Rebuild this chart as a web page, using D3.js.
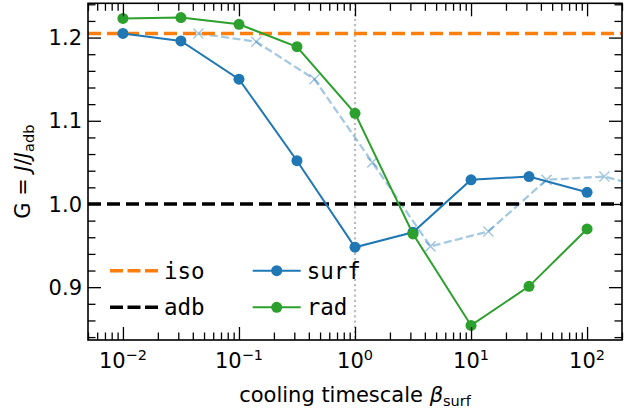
<!DOCTYPE html>
<html>
<head>
<meta charset="utf-8">
<script src="https://cdn.jsdelivr.net/npm/d3@7/dist/d3.min.js"></script>
<style>
body { margin: 0; background: #fff; }
text { font-family: "DejaVu Sans", sans-serif; fill: #000; }
</style>
</head>
<body>
<div id="chart"></div>
<script>
// data
const betaSurf = [0.01, 0.0316, 0.1, 0.316, 1, 3.16, 10, 31.6, 100];
const gSurf = [1.205, 1.196, 1.150, 1.052, 0.948, 0.966, 1.029, 1.033, 1.014];
const gRad = [1.223, 1.224, 1.216, 1.189, 1.109, 0.964, 0.854, 0.901, 0.970];
// faint dashed curve with x markers
const betaShift = [0.0447, 0.141, 0.447, 1.41, 4.47, 14.1, 44.7, 141, 447];
const gShift = [1.205, 1.195, 1.150, 1.050, 0.949, 0.967, 1.029, 1.033, 1.014];
const gIso = 1.205;
const gAdb = 1.0;
const betaMark = 1;

const xTicks = [0.01, 0.1, 1, 10, 100];
const xTickExp = ["\u22122", "\u22121", "0", "1", "2"];
const yTicks = [0.9, 1.0, 1.1, 1.2];
const yTickLabels = ["0.9", "1.0", "1.1", "1.2"];

const width = 624, height = 416;
const margin = { top: 3.3, right: 2, bottom: 76, left: 88 };
const innerW = width - margin.left - margin.right;
const innerH = height - margin.top - margin.bottom;

const blue = "#1f77b4", green = "#2ca02c", orange = "#ff7f0e";

const svg = d3.select("#chart").append("svg")
  .attr("width", width)
  .attr("height", height);

const g = svg.append("g")
  .attr("transform", `translate(${margin.left},${margin.top})`);

const x = d3.scaleLog().domain([0.005, 200]).range([0, innerW]);
const y = d3.scaleLinear().domain([0.8365, 1.2412]).range([innerH, 0]);

// minor ticks
const xMinor = [];
for (let e = -3; e <= 2; e++) {
  for (let m = 2; m <= 9; m++) {
    const v = m * Math.pow(10, e);
    if (v >= 0.005 && v <= 200) xMinor.push(v);
  }
}
const yMinor = d3.range(0.84, 1.2401, 0.02).filter(v => !yTicks.some(t => Math.abs(t - v) < 1e-6));

svg.append("clipPath").attr("id", "plotclip")
  .append("rect").attr("width", innerW).attr("height", innerH);

const plot = g.append("g").attr("clip-path", "url(#plotclip)");

// vertical dotted marker at beta = 1
plot.append("line")
  .attr("x1", x(betaMark)).attr("x2", x(betaMark))
  .attr("y1", 0).attr("y2", innerH)
  .attr("stroke", "#bdbdbd")
  .attr("stroke-width", 2.2)
  .attr("stroke-dasharray", "2.2,3");

const line = d3.line().x(d => x(d[0])).y(d => y(d[1]));

// faint dashed curve
const shiftPts = betaShift.map((b, i) => [b, gShift[i]]);
plot.append("path")
  .datum(shiftPts)
  .attr("d", line)
  .attr("fill", "none")
  .attr("stroke", blue)
  .attr("stroke-opacity", 0.4)
  .attr("stroke-width", 2.3)
  .attr("stroke-dasharray", "8,3.5");

plot.selectAll(".xmark")
  .data(shiftPts)
  .enter()
  .append("path")
  .attr("class", "xmark")
  .attr("transform", d => `translate(${x(d[0])},${y(d[1])})`)
  .attr("d", "M-5,-5L5,5M-5,5L5,-5")
  .attr("stroke", blue)
  .attr("stroke-opacity", 0.4)
  .attr("stroke-width", 1.5)
  .attr("fill", "none");

// iso / adb reference lines
plot.append("line")
  .attr("x1", 0).attr("x2", innerW)
  .attr("y1", y(gIso)).attr("y2", y(gIso))
  .attr("stroke", orange)
  .attr("stroke-width", 3.5)
  .attr("stroke-dasharray", "13,6");

plot.append("line")
  .attr("x1", 0).attr("x2", innerW)
  .attr("y1", y(gAdb)).attr("y2", y(gAdb))
  .attr("stroke", "#000")
  .attr("stroke-width", 3.5)
  .attr("stroke-dasharray", "13,6");

// surf and rad series
const series = [
  { name: "surf", color: blue, values: gSurf },
  { name: "rad", color: green, values: gRad }
];

series.forEach(s => {
  const pts = betaSurf.map((b, i) => [b, s.values[i]]);
  plot.append("path")
    .datum(pts)
    .attr("d", line)
    .attr("fill", "none")
    .attr("stroke", s.color)
    .attr("stroke-width", 2);
  plot.selectAll(".dot-" + s.name)
    .data(pts)
    .enter()
    .append("circle")
    .attr("class", "dot-" + s.name)
    .attr("cx", d => x(d[0]))
    .attr("cy", d => y(d[1]))
    .attr("r", 5.5)
    .attr("fill", s.color);
});

// axes: ticks pointing inward on all four sides
function styleAxis(sel) {
  sel.select(".domain").remove();
  sel.selectAll(".tick line").attr("stroke", "#000").attr("stroke-width", 1.3);
}

g.append("g").attr("transform", `translate(0,${innerH})`)
  .call(d3.axisBottom(x).tickValues(xTicks).tickSize(-13).tickFormat(""))
  .call(styleAxis);
g.append("g").attr("transform", `translate(0,${innerH})`)
  .call(d3.axisBottom(x).tickValues(xMinor).tickSize(-7.5).tickFormat(""))
  .call(styleAxis);
g.append("g")
  .call(d3.axisTop(x).tickValues(xTicks).tickSize(-13).tickFormat(""))
  .call(styleAxis);
g.append("g")
  .call(d3.axisTop(x).tickValues(xMinor).tickSize(-7.5).tickFormat(""))
  .call(styleAxis);

g.append("g")
  .call(d3.axisLeft(y).tickValues(yTicks).tickSize(-13).tickFormat(""))
  .call(styleAxis);
g.append("g")
  .call(d3.axisLeft(y).tickValues(yMinor).tickSize(-7.5).tickFormat(""))
  .call(styleAxis);
g.append("g").attr("transform", `translate(${innerW},0)`)
  .call(d3.axisRight(y).tickValues(yTicks).tickSize(-13).tickFormat(""))
  .call(styleAxis);
g.append("g").attr("transform", `translate(${innerW},0)`)
  .call(d3.axisRight(y).tickValues(yMinor).tickSize(-7.5).tickFormat(""))
  .call(styleAxis);

// frame
g.append("rect")
  .attr("width", innerW).attr("height", innerH)
  .attr("fill", "none")
  .attr("stroke", "#000")
  .attr("stroke-width", 1.6);

// tick labels
g.selectAll(".ylab")
  .data(yTicks)
  .enter()
  .append("text")
  .attr("class", "ylab")
  .attr("x", -6)
  .attr("y", d => y(d))
  .attr("dy", "0.36em")
  .attr("text-anchor", "end")
  .style("font-size", "21px")
  .text((d, i) => yTickLabels[i]);

const xl = g.selectAll(".xlab")
  .data(xTicks)
  .enter()
  .append("text")
  .attr("class", "xlab")
  .attr("x", d => x(d))
  .attr("y", innerH + 28)
  .attr("text-anchor", "middle")
  .style("font-size", "21px");
xl.append("tspan").text("10");
xl.append("tspan")
  .attr("dy", -8)
  .style("font-size", "14.5px")
  .text((d, i) => xTickExp[i]);

// axis titles
const xt = g.append("text")
  .attr("x", innerW / 2)
  .attr("y", innerH + 62)
  .attr("text-anchor", "middle")
  .style("font-size", "21px");
xt.append("tspan").text("cooling timescale ");
xt.append("tspan").style("font-style", "italic").text("\u03b2");
xt.append("tspan").attr("dy", 4).style("font-size", "14.5px").text("surf");

const yt = g.append("text")
  .attr("transform", `translate(${-58},${innerH / 2}) rotate(-90)`)
  .attr("text-anchor", "middle")
  .style("font-size", "21px");
yt.append("tspan").text("G = ");
yt.append("tspan").style("font-style", "italic").text("J");
yt.append("tspan").text("/");
yt.append("tspan").style("font-style", "italic").text("J");
yt.append("tspan").attr("dy", 4).style("font-size", "14.5px").text("adb");

// legend
const legend = g.append("g");
const legRows = [
  { label: "iso", color: orange, dashed: true, col: 0, row: 0 },
  { label: "adb", color: "#000", dashed: true, col: 0, row: 1 },
  { label: "surf", color: blue, dashed: false, col: 1, row: 0 },
  { label: "rad", color: green, dashed: false, col: 1, row: 1 }
];
const colX = [22, 164.7];
const rowY = [267.4, 304];
legRows.forEach(d => {
  const lx = colX[d.col], ly = rowY[d.row];
  const item = legend.append("g").attr("transform", `translate(${lx},${ly})`);
  item.append("line")
    .attr("x1", 0).attr("x2", 48)
    .attr("stroke", d.color)
    .attr("stroke-width", d.dashed ? 3.5 : 2)
    .attr("stroke-dasharray", d.dashed ? "13,4.5" : null);
  if (!d.dashed) {
    item.append("circle").attr("cx", 24).attr("r", 5.5).attr("fill", d.color);
  }
  item.append("text")
    .attr("x", 54)
    .attr("dy", "0.36em")
    .style("font-family", "'DejaVu Sans Mono', monospace")
    .style("font-size", "22.5px")
    .text(d.label);
});
</script>
</body>
</html>
